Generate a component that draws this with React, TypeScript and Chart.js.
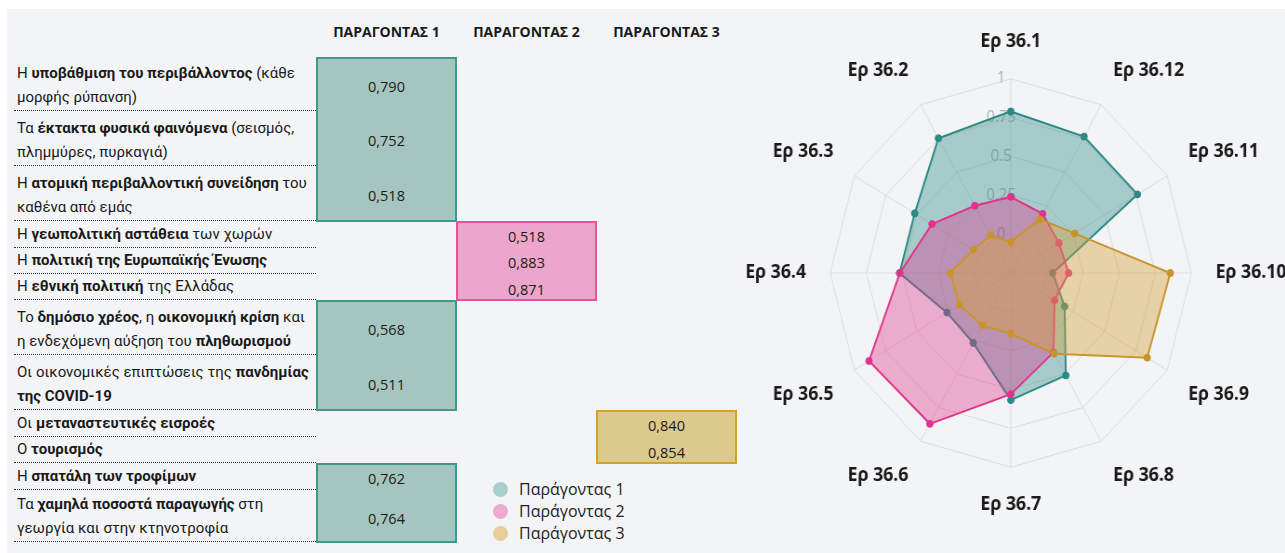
import React, { useEffect, useRef } from 'react';
import { Chart, registerables } from 'chart.js';

Chart.register(...registerables);

// ---- Radar data ----
const axisLabels = ['Ερ 36.1', 'Ερ 36.12', 'Ερ 36.11', 'Ερ 36.10', 'Ερ 36.9', 'Ερ 36.8', 'Ερ 36.7', 'Ερ 36.6', 'Ερ 36.5', 'Ερ 36.4', 'Ερ 36.3', 'Ερ 36.2'];
const factor1Values = [0.79, 0.764, 0.762, 0.04, 0.18, 0.511, 0.568, 0.27, 0.26, 0.52, 0.518, 0.752];
const factor2Values = [0.24, 0.19, 0.135, 0.15, 0.1, 0.34, 0.53, 0.871, 0.883, 0.518, 0.38, 0.25];
const factor3Values = [-0.05, 0.15, 0.26, 0.854, 0.84, 0.35, 0.14, 0.14, 0.16, 0.17, 0.05, 0.03];
const scaleMin = -0.25;
const scaleMax = 1;
const scaleStep = 0.25;
const seriesNames = ['Παράγοντας 1', 'Παράγοντας 2', 'Παράγοντας 3'];

// ---- Table data ----
const columnHeaders = ['ΠΑΡΑΓΟΝΤΑΣ 1', 'ΠΑΡΑΓΟΝΤΑΣ 2', 'ΠΑΡΑΓΟΝΤΑΣ 3'];
type Seg = [string, boolean];
const itemLines: Seg[][][] = [
  [[['Η ', false], ['υποβάθμιση του περιβάλλοντος', true], [' (κάθε', false]], [['μορφής ρύπανση)', false]]],
  [[['Τα ', false], ['έκτακτα φυσικά φαινόμενα', true], [' (σεισμός,', false]], [['πλημμύρες, πυρκαγιά)', false]]],
  [[['Η ', false], ['ατομική περιβαλλοντική συνείδηση', true], [' του', false]], [['καθένα από εμάς', false]]],
  [[['Η ', false], ['γεωπολιτική αστάθεια', true], [' των χωρών', false]]],
  [[['Η ', false], ['πολιτική της Ευρωπαϊκής Ένωσης', true]]],
  [[['Η ', false], ['εθνική πολιτική', true], [' της Ελλάδας', false]]],
  [[['Το ', false], ['δημόσιο χρέος', true], [', η ', false], ['οικονομική κρίση', true], [' και', false]], [['η ενδεχόμενη αύξηση του ', false], ['πληθωρισμού', true]]],
  [[['Οι οικονομικές επιπτώσεις της ', false], ['πανδημίας', true]], [['της COVID-19', true]]],
  [[['Οι ', false], ['μεταναστευτικές εισροές', true]]],
  [[['Ο ', false], ['τουρισμός', true]]],
  [[['Η ', false], ['σπατάλη των τροφίμων', true]]],
  [[['Τα ', false], ['χαμηλά ποσοστά παραγωγής', true], [' στη', false]], [['γεωργία και στην κτηνοτροφία', false]]],
];
const itemFactor = [0, 0, 0, 1, 1, 1, 0, 0, 2, 2, 0, 0];
const itemLoading = [0.79, 0.752, 0.518, 0.518, 0.883, 0.871, 0.568, 0.511, 0.84, 0.854, 0.762, 0.764];

// ---- styling ----
const lineColors = ['#2b8a84', '#e0348c', '#c8952c'];
const fillColors = ['rgba(43,138,132,0.38)', 'rgba(224,52,140,0.38)', 'rgba(214,160,56,0.42)'];
const legendDot = ['#a9cfcc', '#eeaacd', '#e7cd9c'];
const boxFill = ['#a5c6c0', '#eda6cb', '#dcc98c'];
const boxBorder = ['#3b9a89', '#e9539a', '#d4a22a'];

const rowTops = [57, 111, 166, 221, 247.5, 274, 300, 355, 410, 437, 463, 490, 542];
const FONT = "'Open Sans', 'Noto Sans', sans-serif";
const TFONT = "Roboto, 'Noto Sans', sans-serif";

const CW = 720;
const CH = 486;
const SX = 0.93;

function fmt(v: number) {
  return v.toFixed(3).replace('.', ',');
}

function RadarChart() {
  const ref = useRef<HTMLCanvasElement | null>(null);
  useEffect(() => {
    if (!ref.current) return;
    const series = [factor1Values, factor2Values, factor3Values];
    const chart = new Chart(ref.current, {
      type: 'radar',
      data: {
        labels: axisLabels,
        datasets: series.map((vals, i) => ({
          label: seriesNames[i],
          data: vals,
          borderColor: lineColors[i],
          backgroundColor: fillColors[i],
          pointBackgroundColor: lineColors[i],
          pointBorderColor: lineColors[i],
          pointRadius: 3.5,
          pointBorderWidth: 1,
          borderWidth: 2,
          fill: 'start',
          order: 3 - i,
        })),
      },
      options: {
        responsive: false,
        maintainAspectRatio: false,
        animation: false,
        plugins: { legend: { display: false }, tooltip: { enabled: false } },
        elements: { line: { tension: 0 } },
        scales: {
          r: {
            min: scaleMin,
            max: scaleMax,
            ticks: {
              stepSize: scaleStep,
              color: '#b0b0b0',
              font: { size: 16, family: FONT },
              showLabelBackdrop: false,
              backdropPadding: 2,
              callback: (v: any) => (Number(v) < 0 ? '' : String(v) + '     '),
            },
            grid: { color: '#dcdcdc', lineWidth: 1, circular: false },
            angleLines: { color: '#dcdcdc', lineWidth: 1 },
            pointLabels: {
              color: '#1a1a1a',
              font: { size: 19, weight: 'bold', family: FONT },
              padding: 16,
            },
          },
        },
      } as any,
    });
    return () => chart.destroy();
  }, []);
  return (
    <div
      style={{
        position: 'absolute',
        left: 1011 - (SX * CW) / 2,
        top: 30,
        width: CW,
        height: CH,
        transform: `scaleX(${SX})`,
        transformOrigin: '0 0',
      }}
    >
      <canvas ref={ref} width={CW} height={CH} style={{ width: CW, height: CH, display: 'block' }} />
    </div>
  );
}

export default function App() {
  const boxes: { f: number; start: number; end: number }[] = [];
  itemFactor.forEach((f, i) => {
    const last = boxes[boxes.length - 1];
    if (last && last.f === f && last.end === i - 1) last.end = i;
    else boxes.push({ f, start: i, end: i });
  });
  const colLeft = (f: number) => 316 + f * 140;

  return (
    <div
      style={{
        position: 'fixed',
        left: 0,
        top: 0,
        width: 1285,
        height: 553,
        background: '#ffffff',
        overflow: 'hidden',
        fontFamily: FONT,
        color: '#1a1a1a',
      }}
    >
      <div style={{ position: 'absolute', left: 7, top: 9, right: 0, bottom: 0, background: '#f3f4f6' }} />

      {columnHeaders.map((h, i) => (
        <div
          key={h}
          style={{
            position: 'absolute',
            left: colLeft(i),
            width: 141,
            top: 21,
            height: 22,
            lineHeight: '22px',
            textAlign: 'center',
            fontWeight: 700,
            fontSize: 14,
            whiteSpace: 'nowrap',
          }}
        >
          {h}
        </div>
      ))}

      {itemLines.map((lines, i) => {
        const top = rowTops[i];
        const h = rowTops[i + 1] - top;
        return (
          <div
            key={i}
            style={{
              position: 'absolute',
              left: 14,
              width: 302,
              top,
              height: h,
              boxSizing: 'border-box',
              borderBottom: '1px dotted #333',
              display: 'flex',
              flexDirection: 'column',
              justifyContent: 'flex-end',
              paddingLeft: 3,
              paddingBottom: 1,
              fontSize: 15,
              fontFamily: TFONT,
            }}
          >
            {lines.map((segs, j) => (
              <div key={j} style={{ height: 24, lineHeight: '24px', whiteSpace: 'nowrap' }}>
                {segs.map(([t, b], k) => (
                  <span key={k} style={{ fontWeight: b ? 700 : 400 }}>
                    {t}
                  </span>
                ))}
              </div>
            ))}
          </div>
        );
      })}

      {boxes.map((b, i) => (
        <div
          key={i}
          style={{
            position: 'absolute',
            left: colLeft(b.f),
            width: 141,
            top: rowTops[b.start],
            height: rowTops[b.end + 1] - rowTops[b.start] + 1,
            boxSizing: 'border-box',
            background: boxFill[b.f],
            border: `2px solid ${boxBorder[b.f]}`,
          }}
        />
      ))}

      {itemLoading.map((v, i) => (
        <div
          key={i}
          style={{
            position: 'absolute',
            left: colLeft(itemFactor[i]),
            width: 141,
            top: rowTops[i] + 2,
            height: rowTops[i + 1] - rowTops[i],
            display: 'flex',
            alignItems: 'center',
            justifyContent: 'center',
            fontSize: 14.5,
          }}
        >
          {fmt(v)}
        </div>
      ))}

      {seriesNames.map((n, i) => (
        <div
          key={n}
          style={{
            position: 'absolute',
            left: 493,
            top: 478 + i * 22,
            height: 22,
            display: 'flex',
            alignItems: 'center',
            fontSize: 16,
            whiteSpace: 'nowrap',
            color: '#222',
          }}
        >
          <span
            style={{
              display: 'inline-block',
              width: 15,
              height: 15,
              borderRadius: '50%',
              background: legendDot[i],
              marginRight: 11,
            }}
          />
          {n}
        </div>
      ))}

      <RadarChart />
    </div>
  );
}
